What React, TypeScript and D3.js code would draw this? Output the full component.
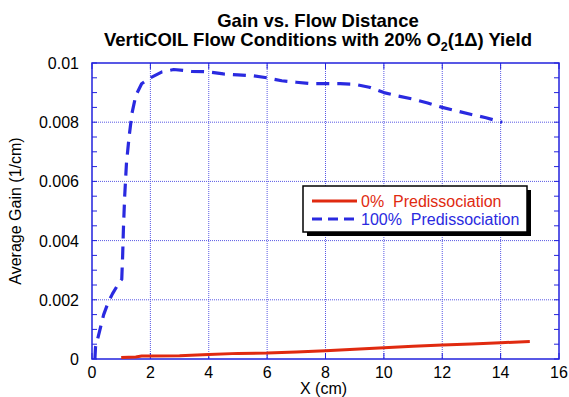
import React from "react";
import * as d3 from "d3";

const titleLine1 = "Gain vs. Flow Distance";
const xTicks = [0, 2, 4, 6, 8, 10, 12, 14, 16];
const yTicks = [0, 0.002, 0.004, 0.006, 0.008, 0.01];
const yTickLabels = ["0", "0.002", "0.004", "0.006", "0.008", "0.01"];
const yMinorTicks = d3.range(0, 0.01001, 0.0005);

const seriesNames = ["0%  Predissociation", "100%  Predissociation"];

const redX = [1.0, 1.5, 1.7, 2.0, 3.0, 4.0, 5.0, 6.0, 7.0, 8.0, 9.0, 10.0, 11.0, 12.0, 13.0, 14.0, 15.0];
const redY = [0.00005, 0.00007, 0.0001, 0.0001, 0.00011, 0.00015, 0.00019, 0.0002, 0.00024, 0.00028, 0.00033, 0.00038, 0.00043, 0.00047, 0.00051, 0.00055, 0.00059];

const blueX = [0.1, 0.12, 0.25, 0.4, 0.55, 0.7, 0.88, 1.02, 1.05, 1.08, 1.12, 1.18, 1.27, 1.37, 1.5, 1.7, 2.0, 2.4, 2.8, 3.4, 4.0, 4.5, 5.0, 5.5, 6.0, 6.5, 7.0, 7.5, 8.0, 8.5, 9.0, 9.5, 10.0, 10.5, 11.0, 11.5, 12.0, 12.5, 13.0, 13.5, 14.05];
const blueY = [0, 0.0004, 0.0009, 0.0015, 0.0019, 0.0022, 0.0025, 0.0027, 0.0035, 0.0045, 0.0055, 0.0066, 0.0075, 0.0083, 0.0089, 0.0093, 0.0095, 0.0097, 0.00978, 0.00972, 0.0097, 0.00963, 0.0096, 0.00957, 0.0095, 0.0094, 0.00935, 0.0093, 0.0093, 0.0093, 0.00928, 0.00918, 0.009, 0.00888, 0.00878, 0.00865, 0.0085, 0.00838, 0.00826, 0.00815, 0.008];

const W = 569;
const H = 397;
const L = 92, R = 559, T = 63, B = 359;
const AXIS = "#2222dd";
const RED = "#e02a10";
const BLUE = "#2a2ae0";
const FONT = "'Liberation Sans', Arial, sans-serif";

export default function App() {
  const x = d3.scaleLinear().domain([0, 16]).range([L, R]);
  const y = d3.scaleLinear().domain([0, 0.01]).range([B, T]);
  const line = d3
    .line<[number, number]>()
    .x((d) => x(d[0]))
    .y((d) => y(d[1]));
  const redPts = redX.map((v, i) => [v, redY[i]] as [number, number]);
  const bluePts = blueX.map((v, i) => [v, blueY[i]] as [number, number]);

  const legL = 303, legT = 186, legW = 224, legH = 46;

  return (
    <svg
      width={W}
      height={H}
      style={{ position: "absolute", left: 0, top: 0, display: "block", background: "#fff" }}
      fontFamily={FONT}
    >
      <rect x={0} y={0} width={W} height={H} fill="#fff" />
      {/* title */}
      <text x={318} y={27} textAnchor="middle" fontSize={18.5} fontWeight="bold" fill="#000">
        {titleLine1}
      </text>
      <text x={318} y={46} textAnchor="middle" fontSize={18.5} fontWeight="bold" fill="#000">
        <tspan>VertiCOIL Flow Conditions with 20% O</tspan>
        <tspan fontSize={12.5} dy={5}>2</tspan>
        <tspan dy={-5}>(1Δ) Yield</tspan>
      </text>

      {/* grid */}
      <g stroke={AXIS} strokeWidth={1} strokeDasharray="1,1" opacity={0.75}>
        {xTicks.slice(1, -1).map((t) => (
          <line key={"gx" + t} x1={x(t)} x2={x(t)} y1={T} y2={B} />
        ))}
        {yTicks.slice(1, -1).map((t) => (
          <line key={"gy" + t} x1={L} x2={R} y1={y(t)} y2={y(t)} />
        ))}
      </g>

      {/* ticks */}
      <g stroke={AXIS} strokeWidth={1}>
        {yMinorTicks.map((t, i) => (
          <g key={"my" + i}>
            <line x1={L} x2={L + 5} y1={y(t)} y2={y(t)} />
            <line x1={R} x2={R - 5} y1={y(t)} y2={y(t)} />
          </g>
        ))}
        {xTicks.map((t) => (
          <g key={"mx" + t}>
            <line x1={x(t)} x2={x(t)} y1={B} y2={B - 6} />
            <line x1={x(t)} x2={x(t)} y1={T} y2={T + 6} />
          </g>
        ))}
      </g>

      {/* frame */}
      <rect x={L} y={T} width={R - L} height={B - T} fill="none" stroke={AXIS} strokeWidth={1.5} />

      {/* data */}
      <path d={line(redPts) || ""} fill="none" stroke={RED} strokeWidth={3} strokeLinejoin="round" />
      <path
        d={line(bluePts) || ""}
        fill="none"
        stroke={BLUE}
        strokeWidth={3.2}
        strokeDasharray="13,8"
        strokeLinejoin="round"
      />

      {/* axis labels */}
      {xTicks.map((t) => (
        <text key={"xl" + t} x={x(t)} y={378} textAnchor="middle" fontSize={16} fill="#000">
          {t}
        </text>
      ))}
      {yTicks.map((t, i) => (
        <text key={"yl" + t} x={79} y={y(t) + 6} textAnchor="end" fontSize={16} fill="#000">
          {yTickLabels[i]}
        </text>
      ))}
      <text x={(L + R) / 2 - 2} y={394} textAnchor="middle" fontSize={16} fill="#000">
        X (cm)
      </text>
      <text
        transform={`translate(21,${(T + B) / 2}) rotate(-90)`}
        textAnchor="middle"
        fontSize={16}
        fill="#000"
      >
        Average Gain (1/cm)
      </text>

      {/* legend */}
      <rect x={legL + 4} y={legT + 4} width={legW} height={legH} fill="#000" />
      <rect x={legL} y={legT} width={legW} height={legH} fill="#fff" stroke="#000" strokeWidth={1.5} />
      <line x1={legL + 9} x2={legL + 54} y1={legT + 15} y2={legT + 15} stroke={RED} strokeWidth={3} />
      <text x={legL + 58} y={legT + 21} fontSize={16} fill={RED} style={{ whiteSpace: "pre" }}>
        {seriesNames[0]}
      </text>
      <line
        x1={legL + 9}
        x2={legL + 54}
        y1={legT + 33}
        y2={legT + 33}
        stroke={BLUE}
        strokeWidth={3}
        strokeDasharray="10,6"
      />
      <text x={legL + 58} y={legT + 39} fontSize={16} fill={BLUE} style={{ whiteSpace: "pre" }}>
        {seriesNames[1]}
      </text>
    </svg>
  );
}
